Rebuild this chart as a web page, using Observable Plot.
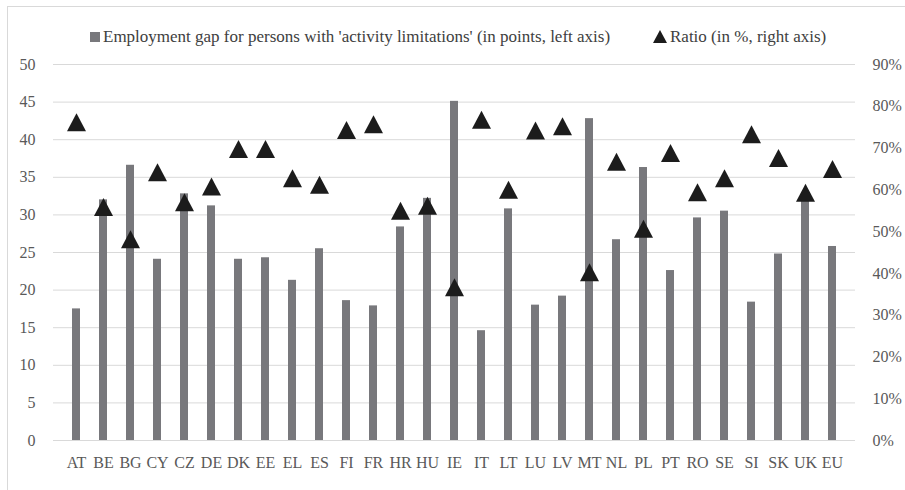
<!DOCTYPE html>
<html>
<head>
<meta charset="utf-8">
<script src="https://cdn.jsdelivr.net/npm/d3@7"></script>
<script src="https://cdn.jsdelivr.net/npm/@observablehq/plot@0.6"></script>
<style>
  html, body { margin: 0; padding: 0; background: #fff; }
  body { width: 905px; height: 490px; position: relative; overflow: hidden; font-family: "Liberation Serif"; }
  #frame { position: absolute; left: 7px; top: 6px; width: 910px; height: 500px; border-left: 1px solid #d9d9d9; border-top: 1px solid #d9d9d9; box-sizing: border-box; }
  #legend { position: absolute; left: 0; top: 27px; width: 905px; height: 22px; font-size: 17px; color: #404040; }
  .lg { position: absolute; top: 0; white-space: nowrap; line-height: 20px; }
  #chart { position: absolute; left: 0; top: 50px; }
</style>
</head>
<body>
<div id="frame"></div>
<div id="legend"></div>
<div id="chart"></div>
<script>
const countries = ["AT","BE","BG","CY","CZ","DE","DK","EE","EL","ES","FI","FR","HR","HU","IE","IT","LT","LU","LV","MT","NL","PL","PT","RO","SE","SI","SK","UK","EU"];
const gap = [17.5,32.0,36.6,24.1,32.8,31.2,24.1,24.3,21.3,25.5,18.6,17.9,28.4,32.2,45.1,14.6,30.8,18.0,19.2,42.8,26.7,36.3,22.6,29.6,30.5,18.4,24.8,32.5,25.8];
const ratio = [76.2,55.9,48.2,64.2,57.0,60.8,69.8,69.8,62.8,61.2,74.3,75.7,55.0,56.2,36.7,76.8,60.0,74.2,75.2,40.3,66.7,50.7,68.8,59.4,62.8,73.3,67.6,59.3,65.0];
const leftTicks = [0,5,10,15,20,25,30,35,40,45,50];
const rightTicks = [0,10,20,30,40,50,60,70,80,90];
const seriesNames = ["Employment gap for persons with 'activity limitations' (in points, left axis)", "Ratio (in %, right axis)"];

const data = countries.map((c, i) => ({country: c, gap: gap[i], ratio: ratio[i]}));
const toLeft = v => v * 50 / 90;

const tri = {
  draw(ctx) {
    ctx.moveTo(0, -9);
    ctx.lineTo(9.5, 9);
    ctx.lineTo(-9.5, 9);
    ctx.closePath();
  }
};

const chart = Plot.plot({
  width: 905,
  height: 430,
  marginLeft: 53,
  marginRight: 50,
  marginTop: 14,
  marginBottom: 40,
  style: {fontFamily: "Liberation Serif", fontSize: "16px", color: "#595959", background: "transparent"},
  x: {domain: countries, paddingInner: 0.7, paddingOuter: 0.35, label: null},
  y: {domain: [0, 50], label: null},
  marks: [
    Plot.gridY(leftTicks, {stroke: "#d9d9d9", strokeOpacity: 1, strokeWidth: 1}),
    Plot.axisY(leftTicks, {tickSize: 0, tickPadding: 18, label: null}),
    Plot.axisY(rightTicks.map(toLeft), {anchor: "right", tickSize: 0, tickPadding: 17, label: null,
      tickFormat: d => Math.round(d * 90 / 50) + "%", textAnchor: "start"}),
    Plot.barY(data, {x: "country", y: "gap", fill: "#78787c"}),
    Plot.dot(data, {x: "country", y: d => toLeft(d.ratio), symbol: tri, r: 9, fill: "#1c1c1c", stroke: "none"}),
    Plot.axisX({tickSize: 0, tickPadding: 16, label: null})
  ]
});
document.getElementById("chart").appendChild(chart);

const legend = document.getElementById("legend");
legend.innerHTML = `
  <div class="lg" style="left:90px;"><span style="display:inline-block;width:10px;height:10px;background:#78787c;vertical-align:0px;margin-right:3px;"></span>${seriesNames[0]}</div>
  <div class="lg" style="left:653px;"><svg width="14" height="13" style="vertical-align:-1px;margin-right:3px;"><path d="M7,0L14,13L0,13Z" fill="#1c1c1c"/></svg>${seriesNames[1]}</div>`;
</script>
</body>
</html>
